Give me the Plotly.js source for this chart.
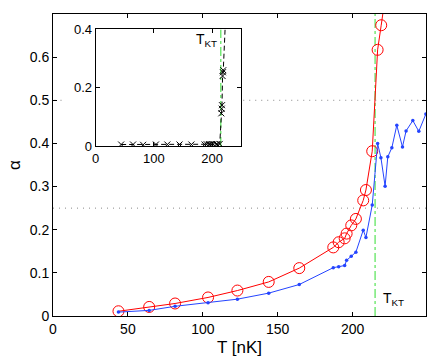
<!DOCTYPE html>
<html>
<head>
<meta charset="utf-8">
<script src="https://cdn.plot.ly/plotly-3.0.1.min.js"></script>
<style>body{margin:0;background:#fff}</style>
</head>
<body>
<div id="plot" style="width:436px;height:357px"></div>
<script>
// main panel: red circles
var redT = [43.7,64.2,81.5,103.5,123.1,144,164.4,187.1,190.7,194.7,196,199.1,202.2,207.1,208.9,213.1,216.7,219.1,222];
var redA = [0.011,0.021,0.029,0.043,0.059,0.079,0.111,0.159,0.171,0.180,0.191,0.210,0.225,0.268,0.292,0.382,0.617,0.674,0.745];

// main panel: blue dots
var blueT = [43.7,64.2,81.5,103.5,123.1,144,164.4,187.1,190.7,194.7,196,199.1,202.2,207.1,208.9,213.1,216.7,218.9,221.7,223.5,226.2,229.5,233.3,235.7,240.2,244.2,248.9];
var blueA = [0.009,0.013,0.0225,0.031,0.039,0.053,0.073,0.112,0.114,0.117,0.129,0.1385,0.148,0.199,0.182,0.257,0.400,0.367,0.301,0.369,0.390,0.442,0.392,0.429,0.453,0.428,0.468];

// inset: black crosses
var insetT = [43.7,64.2,81.5,103.5,123.1,144,164.4,187.1,190.7,194.7,196,199.1,202.2,207.1,208.9,213.1,215.8,216.5,217,218,218.6,219.2,224.5];
var insetA = [0.005,0.005,0.004,0.005,0.005,0.005,0.005,0.005,0.006,0.006,0.005,0.006,0.006,0.006,0.006,0.007,0.112,0.128,0.140,0.240,0.253,0.260,0.5];

var T_KT = 215;

var mainTicksX = [0,50,100,150,200];
var mainTicksY = [0,0.1,0.2,0.3,0.4,0.5,0.6];
var mainTickText = ['0','0.1','0.2','0.3','0.4','0.5','0.6'];
var insetTicksX = [0,100,200];
var insetTicksY = [0,0.2,0.4];
var insetTickText = ['0','0.2','0.4'];

var red = {
  x: redT, y: redA, type: 'scatter', mode: 'lines+markers',
  line: {color: '#ff0000', width: 1},
  marker: {symbol: 'circle-open', size: 11, color: '#ff0000', line: {width: 1}},
  xaxis: 'x', yaxis: 'y'
};
var blue = {
  x: blueT, y: blueA, type: 'scatter', mode: 'lines+markers',
  line: {color: '#2444ff', width: 1},
  marker: {symbol: 'circle', size: 3.5, color: '#2444ff'},
  xaxis: 'x', yaxis: 'y'
};
var cross = {
  x: insetT, y: insetA, type: 'scatter', mode: 'lines+markers',
  line: {color: '#000', width: 1, dash: '5px,3px'},
  marker: {symbol: 'x-thin-open', size: 6, color: '#000', line: {width: 1, color: '#000'}},
  xaxis: 'x2', yaxis: 'y2'
};

var axisBase = {
  showline: true, linecolor: '#000', linewidth: 1, mirror: 'ticks',
  ticks: 'inside', ticklen: 4, tickcolor: '#000',
  showgrid: false, zeroline: false
};

var dotted = {color: '#888', width: 1, dash: '1px,5px'};
var greenDash = {color: '#33dd33', width: 1, dash: 'dashdot'};

var layout = {
  width: 436, height: 357,
  margin: {l: 53, r: 10, t: 14, b: 41},
  paper_bgcolor: '#fff', plot_bgcolor: '#fff',
  showlegend: false,
  font: {family: 'Liberation Sans, Arial, sans-serif', size: 14, color: '#000'},
  xaxis: Object.assign({}, axisBase, {
    domain: [0, 1], range: [0, 249], tickvals: mainTicksX,
    title: {text: 'T [nK]', standoff: 5}, anchor: 'y'
  }),
  yaxis: Object.assign({}, axisBase, {
    domain: [0, 1], range: [0, 0.7], tickvals: mainTicksY, ticktext: mainTickText,
    title: {text: 'α', standoff: 4}, anchor: 'x'
  }),
  xaxis2: Object.assign({}, axisBase, {
    domain: [0.1145, 0.503], range: [0, 249], tickvals: insetTicksX,
    tickfont: {size: 13}, anchor: 'y2'
  }),
  yaxis2: Object.assign({}, axisBase, {
    domain: [0.563, 0.949], range: [0, 0.4], tickvals: insetTicksY, ticktext: insetTickText,
    tickfont: {size: 13}, anchor: 'x2'
  }),
  shapes: [
    {type: 'line', xref: 'x', yref: 'y', x0: 0, x1: 249, y0: 0.25, y1: 0.25, line: dotted, layer: 'below'},
    {type: 'line', xref: 'x', yref: 'y', x0: 1, x1: 7, y0: 0.5, y1: 0.5, line: dotted, layer: 'below'},
    {type: 'line', xref: 'x', yref: 'y', x0: 127, x1: 249, y0: 0.5, y1: 0.5, line: dotted, layer: 'below'},
    {type: 'line', xref: 'x', yref: 'y', x0: T_KT, x1: T_KT, y0: 0, y1: 0.7, line: greenDash, layer: 'below'},
    {type: 'line', xref: 'x2', yref: 'y2', x0: T_KT, x1: T_KT, y0: 0, y1: 0.4, line: greenDash, layer: 'below'}
  ],
  annotations: [
    {xref: 'x', yref: 'y', x: 218.9, y: 0.039, xanchor: 'left', yanchor: 'middle',
     text: 'T<sub>KT</sub>', showarrow: false, font: {size: 14}},
    {xref: 'x2', yref: 'y2', x: 168.5, y: 0.365, xanchor: 'left', yanchor: 'middle',
     text: 'T<sub>KT</sub>', showarrow: false, font: {size: 14}}
  ]
};

Plotly.newPlot('plot', [red, blue, cross], layout, {displayModeBar: false, staticPlot: true});
</script>
</body>
</html>
